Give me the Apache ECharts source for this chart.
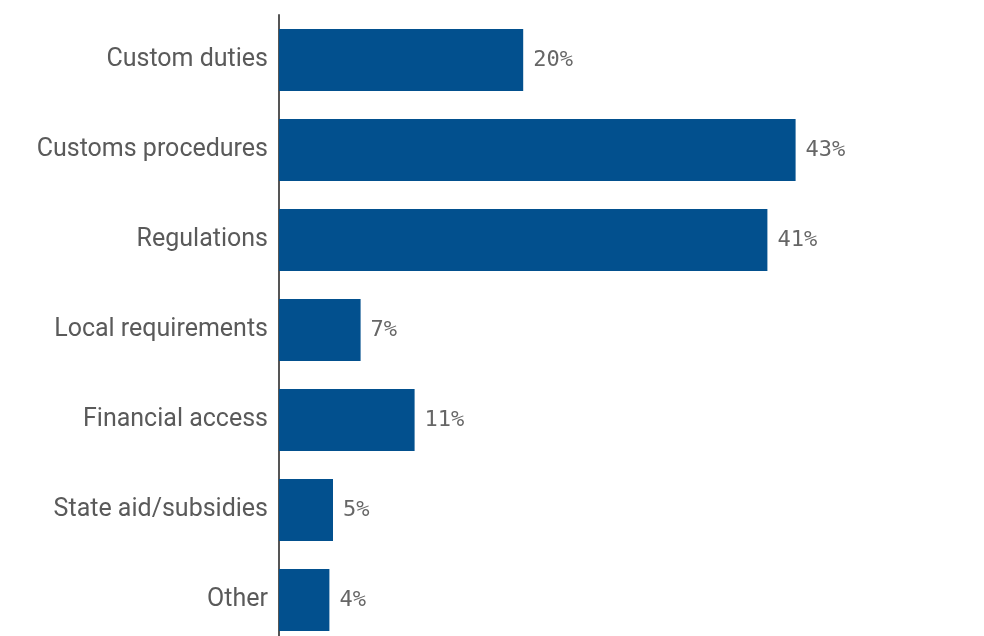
<!DOCTYPE html>
<html><head><meta charset="utf-8">
<script src="https://cdn.jsdelivr.net/npm/echarts@6/dist/echarts.min.js"></script>
<style>html,body{margin:0;padding:0;background:#fff;overflow:hidden;height:636px}#c{width:984px;height:645px}</style>
</head><body><div id="c"></div>
<script>
const categories = ["Custom duties","Customs procedures","Regulations","Local requirements","Financial access","State aid/subsidies","Other"];
const values = [20.35, 43.05, 40.7, 6.8, 11.3, 4.5, 4.2];
const valueLabels = ["20%","43%","41%","7%","11%","5%","4%"];

const chart = echarts.init(document.getElementById('c'));
chart.setOption({
  animation: false,
  grid: {left: 279, top: 15, right: 105, bottom: 0},
  xAxis: {type: 'value', min: 0, max: 50, show: false},
  yAxis: {
    type: 'category', data: categories, inverse: true,
    axisLine: {show: true, lineStyle: {color: '#555', width: 2}},
    axisTick: {show: false},
    axisLabel: {color: '#5a5a5a', fontSize: 25, fontFamily: 'Roboto', margin: 11}
  },
  series: [{
    type: 'bar', data: values, barWidth: 62,
    itemStyle: {color: '#02508E'},
    label: {show: true, position: 'right', distance: 10, color: '#666', fontSize: 22,
      fontFamily: 'DejaVu Sans Mono',
      formatter: p => valueLabels[p.dataIndex]}
  }]
});
</script></body></html>
